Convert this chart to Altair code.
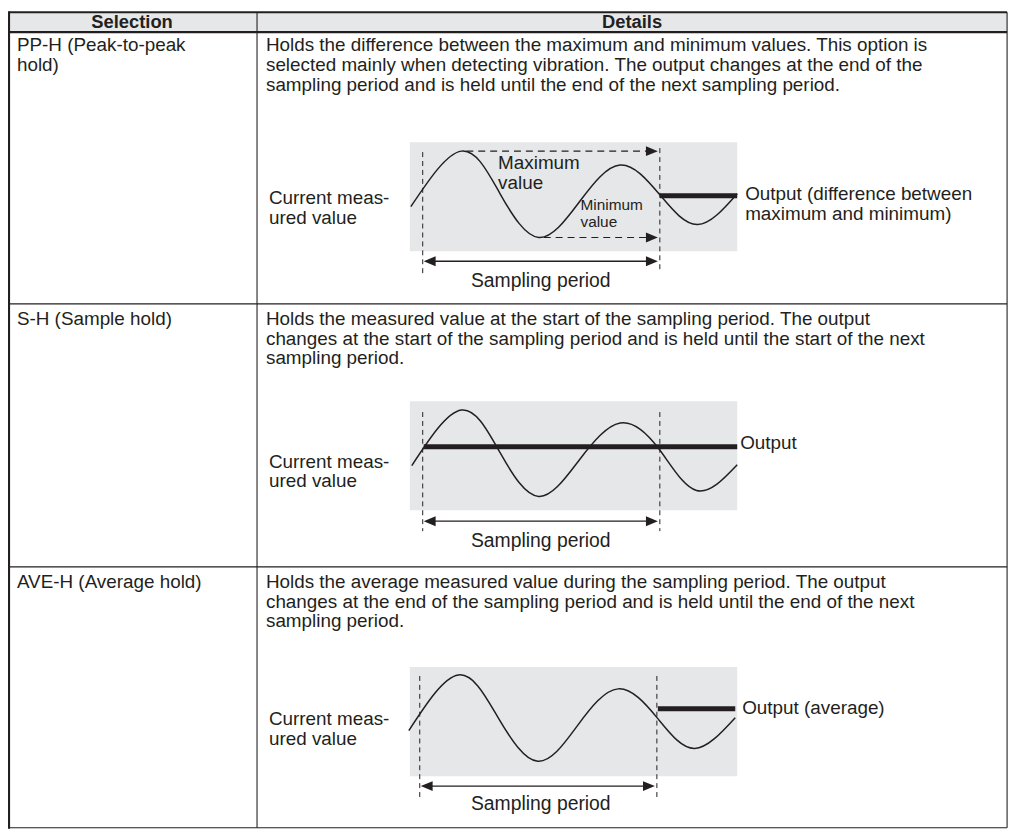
import altair as alt
import pandas as pd

# ---------------- content ----------------
header_labels = ["Selection", "Details"]
header_x = [133, 637]
header_y = [19, 19]

selection_rows = [["PP-H (Peak-to-peak", "hold)"], ["S-H (Sample hold)"], ["AVE-H (Average hold)"]]
details_rows = [
    ["Holds the difference between the maximum and minimum values. This option is",
     "selected mainly when detecting vibration. The output changes at the end of the",
     "sampling period and is held until the end of the next sampling period."],
    ["Holds the measured value at the start of the sampling period. The output",
     "changes at the start of the sampling period and is held until the start of the next",
     "sampling period."],
    ["Holds the average measured value during the sampling period. The output",
     "changes at the end of the sampling period and is held until the end of the next",
     "sampling period."],
]
row_first_line_y = [42, 318, 583]
line_step = 20
sel_text_x = 17
det_text_x = 268

# table grid
top_y = 9
header_bottom_y = 29
row_sep_y = [303, 568]
bottom_y = 831
left_x = 9
col_x = 259
right_x = 1015

# diagram boxes
box_x1 = [413, 413, 413]
box_x2 = [743, 743, 743]
box_y1 = [140, 401, 669]
box_y2 = [250, 511, 779]

# measured-value waves (points read at peaks, troughs and crossings)
wave1_x = [414, 465, 504, 543, 584, 625, 665, 703, 743]
wave1_y = [205, 149, 192, 236, 200, 163, 193, 223, 192]
wave2_x = [415, 465, 504, 543, 584, 625, 664, 702, 743]
wave2_y = [466, 410, 453, 497, 460, 423, 449, 491, 465]
wave3_x = [412, 462, 502, 542, 582, 623, 663, 700, 741]
wave3_y = [733, 677, 720, 764, 728, 691, 721, 751, 720]

# thick output lines
out_x1 = [665, 427, 663]
out_x2 = [743, 743, 741]
out_y = [194, 447, 711]

# dashed period markers
dash_x = [426, 665, 426, 665, 423, 662]
dash_y1 = [150, 146, 412, 412, 678, 678]
dash_y2 = [272, 269, 532, 532, 801, 801]

# sampling-period arrows
samp_x1 = [427, 427, 424]
samp_x2 = [663, 663, 660]
samp_y = [260, 522, 789]
samp_label_x = [545, 545, 545]
samp_label_y = [280, 542, 807]

# max / min dashed arrows (row 1)
mm_x1 = [470, 548]
mm_x2 = [663, 663]
mm_y = [149, 236]

# diagram labels
left_label = ["Current meas-", "ured value"]
left_label_x = 271
left_label_y = [[196, 216], [462, 482], [721, 742]]
right_labels = [["Output (difference between", "maximum and minimum)"], ["Output"], ["Output (average)"]]
right_label_x = [751, 746, 748]
right_label_y = [[192, 212], [443], [710]]
max_label = ["Maximum", "value"]
max_label_x = 502
max_label_y = [161, 181]
min_label = ["Minimum", "value"]
min_label_x = 585
min_label_y = [203, 220]

INK = "#231f20"
GRAY = "#e6e7e8"
FONT = "Liberation Sans"

# ---------------- build tables ----------------
XS = alt.Scale(domain=[8, 1026], nice=False, zero=False)
YS = alt.Scale(domain=[8, 832], nice=False, zero=False, reverse=True)


def X(f="x"):
    return alt.X(f"{f}:Q", scale=XS, axis=None)


def Y(f="y"):
    return alt.Y(f"{f}:Q", scale=YS, axis=None)


rects = pd.DataFrame({
    "x": [left_x] + box_x1, "x2": [right_x] + box_x2,
    "y": [top_y] + box_y1, "y2": [header_bottom_y] + box_y2,
})

thick = pd.DataFrame({
    "x": [left_x, left_x, left_x], "x2": [right_x, right_x, left_x],
    "y": [top_y, header_bottom_y, 8], "y2": [top_y, header_bottom_y, bottom_y + 1],
})
thin = pd.DataFrame({
    "x": [left_x, left_x, left_x, col_x, right_x],
    "x2": [right_x, right_x, right_x, col_x, right_x],
    "y": [row_sep_y[0], row_sep_y[1], bottom_y, top_y, top_y],
    "y2": [row_sep_y[0], row_sep_y[1], bottom_y, bottom_y, bottom_y],
})

waves = []
for r, (xs, ys) in enumerate([(wave1_x, wave1_y), (wave2_x, wave2_y), (wave3_x, wave3_y)]):
    for i, (xv, yv) in enumerate(zip(xs, ys)):
        waves.append({"row": r, "i": i, "x": xv, "y": yv})
waves = pd.DataFrame(waves)

outs = pd.DataFrame({"x": out_x1, "x2": out_x2, "y": out_y, "y2": out_y})
dashes_v = pd.DataFrame({"x": dash_x, "x2": dash_x, "y": dash_y1, "y2": dash_y2})
dashes_h = pd.DataFrame({"x": mm_x1, "x2": [v - 10 for v in mm_x2], "y": mm_y, "y2": mm_y})
samp = pd.DataFrame({"x": [v + 10 for v in samp_x1], "x2": [v - 10 for v in samp_x2],
                     "y": samp_y, "y2": samp_y})

right_heads = pd.DataFrame({"x": mm_x2 + samp_x2, "y": mm_y + samp_y})
left_heads = pd.DataFrame({"x": samp_x1, "y": samp_y})

body = []
for r in range(3):
    for k, t in enumerate(selection_rows[r]):
        body.append({"x": sel_text_x, "y": row_first_line_y[r] + k * line_step, "t": t})
    for k, t in enumerate(details_rows[r]):
        body.append({"x": det_text_x, "y": row_first_line_y[r] + k * line_step, "t": t})
body = pd.DataFrame(body)

heads = pd.DataFrame({"x": header_x, "y": header_y, "t": header_labels})

labels = []
for r in range(3):
    for k, t in enumerate(left_label):
        labels.append({"x": left_label_x, "y": left_label_y[r][k], "t": t})
    for k, t in enumerate(right_labels[r]):
        labels.append({"x": right_label_x[r], "y": right_label_y[r][k], "t": t})
for k, t in enumerate(max_label):
    labels.append({"x": max_label_x, "y": max_label_y[k], "t": t})
labels = pd.DataFrame(labels)

small = pd.DataFrame({"x": [min_label_x] * 2, "y": min_label_y, "t": min_label})
samp_txt = pd.DataFrame({"x": samp_label_x, "y": samp_label_y, "t": ["Sampling period"] * 3})

# ---------------- layers ----------------
rect_l = alt.Chart(rects).mark_rect(color=GRAY).encode(
    x=X(), x2="x2:Q", y=Y(), y2="y2:Q")
thick_l = alt.Chart(thick).mark_rule(color=INK, strokeWidth=2.2).encode(
    x=X(), x2="x2:Q", y=Y(), y2="y2:Q")
thin_l = alt.Chart(thin).mark_rule(color=INK, strokeWidth=1.1).encode(
    x=X(), x2="x2:Q", y=Y(), y2="y2:Q")
wave_l = alt.Chart(waves).mark_line(color=INK, strokeWidth=1.5, interpolate="natural").encode(
    x=X(), y=Y(), detail="row:N", order="i:Q")
out_l = alt.Chart(outs).mark_rule(color=INK, strokeWidth=5, strokeCap="butt").encode(
    x=X(), x2="x2:Q", y=Y(), y2="y2:Q")
dv_l = alt.Chart(dashes_v).mark_rule(color=INK, strokeWidth=1.0, strokeDash=[5, 4]).encode(
    x=X(), x2="x2:Q", y=Y(), y2="y2:Q")
dh_l = alt.Chart(dashes_h).mark_rule(color=INK, strokeWidth=1.1, strokeDash=[7, 5]).encode(
    x=X(), x2="x2:Q", y=Y(), y2="y2:Q")
samp_l = alt.Chart(samp).mark_rule(color=INK, strokeWidth=1.3).encode(
    x=X(), x2="x2:Q", y=Y(), y2="y2:Q")
rh_l = alt.Chart(right_heads).mark_point(
    shape="M0,0L-2.4,-1L-2.4,1Z", filled=True, size=100, color=INK, opacity=1, strokeWidth=0
).encode(x=X(), y=Y())
lh_l = alt.Chart(left_heads).mark_point(
    shape="M0,0L2.4,-1L2.4,1Z", filled=True, size=100, color=INK, opacity=1, strokeWidth=0
).encode(x=X(), y=Y())

body_l = alt.Chart(body).mark_text(align="left", baseline="middle", font=FONT, fontSize=19,
                                   color=INK).encode(x=X(), y=Y(), text="t:N")
head_l = alt.Chart(heads).mark_text(align="center", baseline="middle", font=FONT, fontSize=18.5,
                                    fontWeight="bold", color=INK).encode(x=X(), y=Y(), text="t:N")
lab_l = alt.Chart(labels).mark_text(align="left", baseline="middle", font=FONT, fontSize=19,
                                    color=INK).encode(x=X(), y=Y(), text="t:N")
small_l = alt.Chart(small).mark_text(align="left", baseline="middle", font=FONT, fontSize=15.5,
                                     color=INK).encode(x=X(), y=Y(), text="t:N")
samp_t = alt.Chart(samp_txt).mark_text(align="center", baseline="middle", font=FONT, fontSize=19.5,
                                       color=INK).encode(x=X(), y=Y(), text="t:N")

chart = alt.layer(
    rect_l, thin_l, thick_l, wave_l, out_l, dv_l, dh_l, samp_l, rh_l, lh_l,
    body_l, head_l, lab_l, small_l, samp_t
).properties(
    width=1018, height=824, autosize="none", padding=0
).configure_view(stroke=None)

chart.save("out.html", embed_options={"renderer": "svg", "actions": False})
